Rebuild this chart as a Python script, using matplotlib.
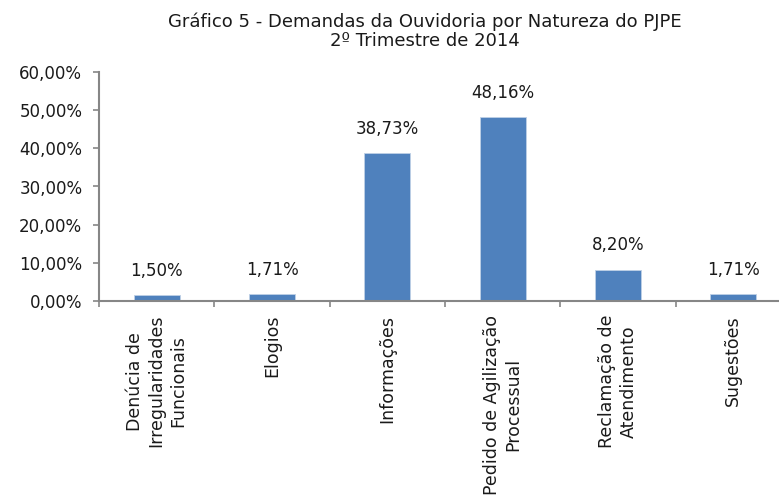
import matplotlib
matplotlib.use("Agg")
from matplotlib import pyplot as plt
from matplotlib.ticker import FixedLocator, FuncFormatter

categories = [
    "Denúcia de\nIrregularidades\nFuncionais",
    "Elogios",
    "Informações",
    "Pedido de Agilização\nProcessual",
    "Reclamação de\nAtendimento",
    "Sugestões",
]
values = [1.50, 1.71, 38.73, 48.16, 8.20, 1.71]
y_ticks = [0, 10, 20, 30, 40, 50, 60]

plt.rcParams["font.family"] = ["DejaVu Sans"]

fig = plt.figure(figsize=(7.79, 4.99), dpi=100)
# axes run slightly past the right edge, as in the reference crop
ax = fig.add_axes([99 / 779, 198 / 499, 692 / 779, 229 / 499])

bar_color = "#4F81BD"
axis_color = "#868686"
text_color = "#1a1a1a"
x = list(range(len(categories)))
ax.bar(x, values, width=0.4, color=bar_color, edgecolor="#BFD0E6", linewidth=0.6)

for xi, v in zip(x, values):
    ax.annotate(f"{v:.2f}%".replace(".", ","), (xi, v), xytext=(0, 11),
                textcoords="offset points", ha="center", va="bottom",
                fontsize=12, color=text_color)

ax.set_xlim(-0.5, len(categories) - 0.5)
ax.set_ylim(0, 60)
ax.set_yticks(y_ticks)
ax.yaxis.set_major_formatter(FuncFormatter(lambda v, p: f"{v:.2f}%".replace(".", ",")))

ax.set_xticks(x)
ax.set_xticklabels(categories, rotation=90, ha="center", va="top",
                   fontsize=12.5, linespacing=1.27, multialignment="center",
                   color=text_color)
ax.tick_params(axis="x", which="major", length=0, pad=10)
ax.xaxis.set_minor_locator(FixedLocator([i - 0.5 for i in range(len(categories) + 1)]))
ax.tick_params(axis="x", which="minor", length=4, width=1.2, color=axis_color)
ax.tick_params(axis="y", length=4, width=1.2, color=axis_color, labelsize=12,
               pad=8, labelcolor=text_color)

for side in ["top", "right"]:
    ax.spines[side].set_visible(False)
for side in ["left", "bottom"]:
    ax.spines[side].set_color(axis_color)
    ax.spines[side].set_linewidth(1.5)

fig.text(425 / 779, 1 - 31 / 499,
         "Gráfico 5 - Demandas da Ouvidoria por Natureza do PJPE\n2º Trimestre de 2014",
         ha="center", va="center", multialignment="center", fontsize=13,
         linespacing=1.1, color=text_color)

fig.savefig("out.png", dpi=100)
